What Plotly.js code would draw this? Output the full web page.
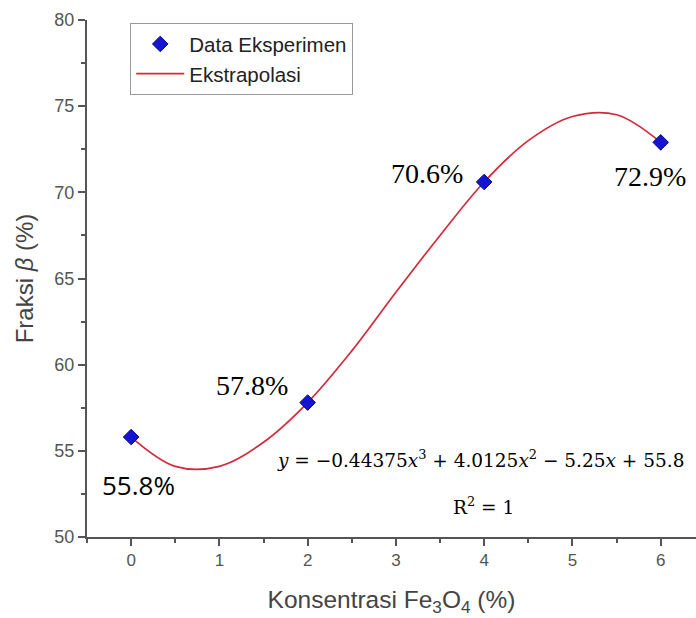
<!DOCTYPE html>
<html>
<head>
<meta charset="utf-8">
<script src="https://cdn.plot.ly/plotly-3.0.1.min.js"></script>
<style>html,body{margin:0;padding:0;background:#fff;}#chart{width:696px;height:618px;}</style>
</head>
<body>
<div id="chart"></div>
<script>
// Experimental data
const konsentrasi = [0, 2, 4, 6];
const fraksiBeta = [55.8, 57.8, 70.6, 72.9];
const dataLabels = ["55.8%", "57.8%", "70.6%", "72.9%"];

// Extrapolation curve, values
const curveX = [0, 0.5, 1, 1.5, 2, 2.5, 3, 3.5, 4, 4.5, 5, 5.5, 6];
const curveY = [55.8, 54.1, 54.1, 55.5, 57.8, 60.8, 64.2, 67.5, 70.6, 73.0, 74.4, 74.5, 72.9];

// Label positions (data coordinates)
const labelX = [0.08, 1.37, 3.35, 5.88];
const labelY = [53.0, 58.8, 71.1, 70.9];
const labelFonts = ["Open Sans, sans-serif", "Liberation Serif, Times New Roman, serif",
                    "Liberation Serif, Times New Roman, serif", "Liberation Serif, Times New Roman, serif"];
const labelSizes = [26, 28, 28, 28];

const xTicks = [0, 1, 2, 3, 4, 5, 6];
const yTicks = [50, 55, 60, 65, 70, 75, 80];

const traces = [
  {
    x: curveX, y: curveY, type: 'scatter', mode: 'lines', name: 'Ekstrapolasi',
    line: {color: '#d22a3c', width: 1.7, shape: 'spline'}, legendrank: 2
  },
  {
    x: konsentrasi, y: fraksiBeta, type: 'scatter', mode: 'markers', name: 'Data Eksperimen',
    marker: {symbol: 'diamond', size: 12, color: '#1414d2', line: {color: '#0a0a80', width: 1}},
    legendrank: 1
  }
];

const annotations = dataLabels.map((t, i) => ({
  x: labelX[i], y: labelY[i], xref: 'x', yref: 'y', text: t, showarrow: false,
  font: {family: labelFonts[i], size: labelSizes[i], color: '#000'}
}));
annotations.push({
  x: 3.957, y: 54.55, xref: 'x', yref: 'y', showarrow: false,
  text: '<i>y</i> = \u22120.44375<i>x</i><sup>3</sup> + 4.0125<i>x</i><sup>2</sup> \u2212 5.25<i>x</i> + 55.8',
  font: {family: 'DejaVu Serif, serif', size: 18.5, color: '#000'}
});
annotations.push({
  x: 3.99, y: 51.8, xref: 'x', yref: 'y', showarrow: false,
  text: 'R<sup>2</sup> = 1',
  font: {family: 'DejaVu Serif, serif', size: 18.5, color: '#000'}
});

const axisCommon = {
  showgrid: false, zeroline: false, showline: true, linecolor: '#555', linewidth: 2,
  ticks: 'outside', ticklen: 7, tickwidth: 2, tickcolor: '#555'
};

const layout = {
  width: 696, height: 618,
  margin: {l: 87, r: 0, t: 20, b: 81},
  paper_bgcolor: '#fff', plot_bgcolor: '#fff',
  showlegend: true,
  legend: {
    x: 0.071, y: 0.994, xanchor: 'left', yanchor: 'top',
    bordercolor: '#999', borderwidth: 1, bgcolor: '#fff',
    font: {family: 'Liberation Sans', size: 20.5, color: '#222'},
    itemwidth: 48, tracegroupgap: 0
  },
  xaxis: Object.assign({}, axisCommon, {
    range: [-0.5, 6.4], tickvals: xTicks, ticktext: xTicks.map(String),
    tickfont: {family: 'Liberation Sans', size: 17, color: '#555'},
    minor: {ticks: 'outside', ticklen: 4, tickwidth: 2, tickcolor: '#555', dtick: 0.5, tick0: 0.5},
    title: {text: 'Konsentrasi Fe<sub>3</sub>O<sub>4</sub> (%)', standoff: 21,
            font: {family: 'Liberation Sans', size: 24.5, color: '#444'}}
  }),
  yaxis: Object.assign({}, axisCommon, {
    range: [50, 80], tickvals: yTicks, ticktext: yTicks.map(String),
    tickfont: {family: 'Liberation Sans', size: 18, color: '#555'},
    minor: {ticks: 'outside', ticklen: 4, tickwidth: 2, tickcolor: '#555', dtick: 2.5, tick0: 52.5},
    title: {text: 'Fraksi <i>\u03B2</i> (%)', standoff: 14,
            font: {family: 'Liberation Sans', size: 24, color: '#444'}}
  }),
  annotations: annotations
};

Plotly.newPlot('chart', traces, layout, {displayModeBar: false, staticPlot: true});
</script>
</body>
</html>
